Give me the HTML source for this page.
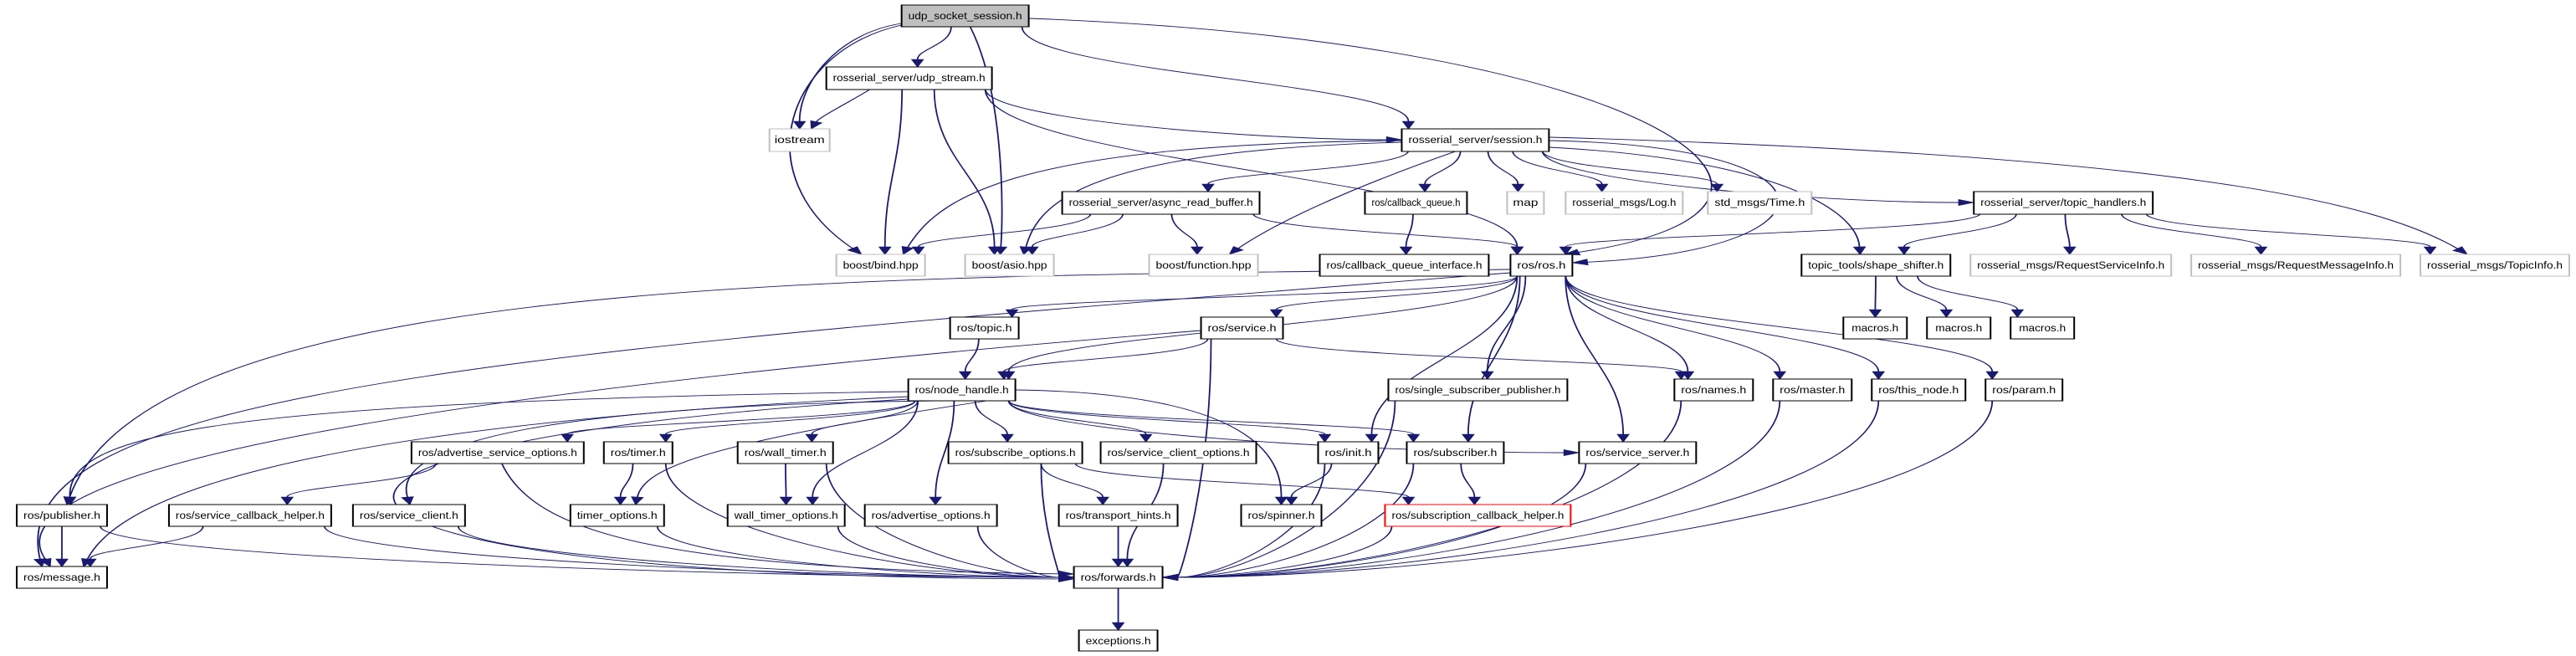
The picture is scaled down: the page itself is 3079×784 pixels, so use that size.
<!DOCTYPE html>
<html><head><meta charset="utf-8"><style>
html,body{margin:0;padding:0;background:#fff;width:3079px;height:784px;overflow:hidden}
svg{display:block}
text{font-family:"Liberation Sans",sans-serif;font-size:12px;fill:#000}
</style></head><body>
<svg id="g" width="3079" height="784" viewBox="0 0 1540 784" preserveAspectRatio="none" xmlns="http://www.w3.org/2000/svg">
<g id="edges" fill="none" stroke="#191970" stroke-width="0.9"></g>
<g id="arrows" fill="#191970" stroke="#191970" stroke-width="0.6"></g>
<g id="nodes">
<rect x="539" y="6" width="76" height="26" fill="#bfbfbf" stroke="#000"/><text x="577" y="23" text-anchor="middle" textLength="68" lengthAdjust="spacingAndGlyphs">udp_socket_session.h</text>
<rect x="494" y="80" width="99" height="27" fill="#fff" stroke="#000"/><text x="543.5" y="97" text-anchor="middle" textLength="91" lengthAdjust="spacingAndGlyphs">rosserial_server/udp_stream.h</text>
<rect x="460" y="154" width="36" height="27" fill="#fff" stroke="#bfbfbf"/><text x="478" y="171" text-anchor="middle" textLength="30" lengthAdjust="spacingAndGlyphs">iostream</text>
<rect x="838" y="154" width="88" height="27" fill="#fff" stroke="#000"/><text x="882" y="171" text-anchor="middle" textLength="80" lengthAdjust="spacingAndGlyphs">rosserial_server/session.h</text>
<rect x="635" y="229" width="118" height="27" fill="#fff" stroke="#000"/><text x="694" y="246" text-anchor="middle" textLength="110" lengthAdjust="spacingAndGlyphs">rosserial_server/async_read_buffer.h</text>
<rect x="816" y="229" width="61" height="27" fill="#fff" stroke="#000"/><text x="846.5" y="246" text-anchor="middle" textLength="53" lengthAdjust="spacingAndGlyphs">ros/callback_queue.h</text>
<rect x="901" y="229" width="22" height="27" fill="#fff" stroke="#bfbfbf"/><text x="912" y="246" text-anchor="middle" textLength="15" lengthAdjust="spacingAndGlyphs">map</text>
<rect x="936" y="229" width="70" height="27" fill="#fff" stroke="#bfbfbf"/><text x="971" y="246" text-anchor="middle" textLength="62" lengthAdjust="spacingAndGlyphs">rosserial_msgs/Log.h</text>
<rect x="1021" y="229" width="62" height="27" fill="#fff" stroke="#bfbfbf"/><text x="1052" y="246" text-anchor="middle" textLength="54" lengthAdjust="spacingAndGlyphs">std_msgs/Time.h</text>
<rect x="1180" y="229" width="107" height="27" fill="#fff" stroke="#000"/><text x="1233.5" y="246" text-anchor="middle" textLength="99" lengthAdjust="spacingAndGlyphs">rosserial_server/topic_handlers.h</text>
<rect x="500" y="304" width="53" height="26" fill="#fff" stroke="#bfbfbf"/><text x="526.5" y="321" text-anchor="middle" textLength="45" lengthAdjust="spacingAndGlyphs">boost/bind.hpp</text>
<rect x="577" y="304" width="53" height="26" fill="#fff" stroke="#bfbfbf"/><text x="603.5" y="321" text-anchor="middle" textLength="45" lengthAdjust="spacingAndGlyphs">boost/asio.hpp</text>
<rect x="687" y="304" width="65" height="26" fill="#fff" stroke="#bfbfbf"/><text x="719.5" y="321" text-anchor="middle" textLength="57" lengthAdjust="spacingAndGlyphs">boost/function.hpp</text>
<rect x="789" y="304" width="101" height="26" fill="#fff" stroke="#000"/><text x="839.5" y="321" text-anchor="middle" textLength="93" lengthAdjust="spacingAndGlyphs">ros/callback_queue_interface.h</text>
<rect x="903" y="304" width="37" height="26" fill="#fff" stroke="#000"/><text x="921.5" y="321" text-anchor="middle" textLength="29" lengthAdjust="spacingAndGlyphs">ros/ros.h</text>
<rect x="1077" y="304" width="89" height="26" fill="#fff" stroke="#000"/><text x="1121.5" y="321" text-anchor="middle" textLength="81" lengthAdjust="spacingAndGlyphs">topic_tools/shape_shifter.h</text>
<rect x="1178" y="304" width="120" height="26" fill="#fff" stroke="#bfbfbf"/><text x="1238" y="321" text-anchor="middle" textLength="112" lengthAdjust="spacingAndGlyphs">rosserial_msgs/RequestServiceInfo.h</text>
<rect x="1310" y="304" width="125" height="26" fill="#fff" stroke="#bfbfbf"/><text x="1372.5" y="321" text-anchor="middle" textLength="117" lengthAdjust="spacingAndGlyphs">rosserial_msgs/RequestMessageInfo.h</text>
<rect x="1447" y="304" width="89" height="26" fill="#fff" stroke="#bfbfbf"/><text x="1491.5" y="321" text-anchor="middle" textLength="81" lengthAdjust="spacingAndGlyphs">rosserial_msgs/TopicInfo.h</text>
<rect x="568" y="379" width="41" height="26" fill="#fff" stroke="#000"/><text x="588.5" y="396" text-anchor="middle" textLength="33" lengthAdjust="spacingAndGlyphs">ros/topic.h</text>
<rect x="718" y="379" width="49" height="26" fill="#fff" stroke="#000"/><text x="742.5" y="396" text-anchor="middle" textLength="41" lengthAdjust="spacingAndGlyphs">ros/service.h</text>
<rect x="1102" y="379" width="38" height="26" fill="#fff" stroke="#000"/><text x="1121" y="396" text-anchor="middle" textLength="28" lengthAdjust="spacingAndGlyphs">macros.h</text>
<rect x="1152" y="379" width="38" height="26" fill="#fff" stroke="#000"/><text x="1171" y="396" text-anchor="middle" textLength="28" lengthAdjust="spacingAndGlyphs">macros.h</text>
<rect x="1202" y="379" width="38" height="26" fill="#fff" stroke="#000"/><text x="1221" y="396" text-anchor="middle" textLength="28" lengthAdjust="spacingAndGlyphs">macros.h</text>
<rect x="543" y="453" width="64" height="26" fill="#fff" stroke="#000"/><text x="575" y="470" text-anchor="middle" textLength="56" lengthAdjust="spacingAndGlyphs">ros/node_handle.h</text>
<rect x="830" y="453" width="107" height="26" fill="#fff" stroke="#000"/><text x="883.5" y="470" text-anchor="middle" textLength="99" lengthAdjust="spacingAndGlyphs">ros/single_subscriber_publisher.h</text>
<rect x="1001" y="453" width="47" height="26" fill="#fff" stroke="#000"/><text x="1024.5" y="470" text-anchor="middle" textLength="39" lengthAdjust="spacingAndGlyphs">ros/names.h</text>
<rect x="1060" y="453" width="47" height="26" fill="#fff" stroke="#000"/><text x="1083.5" y="470" text-anchor="middle" textLength="39" lengthAdjust="spacingAndGlyphs">ros/master.h</text>
<rect x="1119" y="453" width="56" height="26" fill="#fff" stroke="#000"/><text x="1147" y="470" text-anchor="middle" textLength="48" lengthAdjust="spacingAndGlyphs">ros/this_node.h</text>
<rect x="1187" y="453" width="46" height="26" fill="#fff" stroke="#000"/><text x="1210" y="470" text-anchor="middle" textLength="38" lengthAdjust="spacingAndGlyphs">ros/param.h</text>
<rect x="246" y="528" width="103" height="26" fill="#fff" stroke="#000"/><text x="297.5" y="545" text-anchor="middle" textLength="95" lengthAdjust="spacingAndGlyphs">ros/advertise_service_options.h</text>
<rect x="361" y="528" width="41" height="26" fill="#fff" stroke="#000"/><text x="381.5" y="545" text-anchor="middle" textLength="33" lengthAdjust="spacingAndGlyphs">ros/timer.h</text>
<rect x="441" y="528" width="57" height="26" fill="#fff" stroke="#000"/><text x="469.5" y="545" text-anchor="middle" textLength="49" lengthAdjust="spacingAndGlyphs">ros/wall_timer.h</text>
<rect x="567" y="528" width="80" height="26" fill="#fff" stroke="#000"/><text x="607" y="545" text-anchor="middle" textLength="72" lengthAdjust="spacingAndGlyphs">ros/subscribe_options.h</text>
<rect x="658" y="528" width="93" height="26" fill="#fff" stroke="#000"/><text x="704.5" y="545" text-anchor="middle" textLength="85" lengthAdjust="spacingAndGlyphs">ros/service_client_options.h</text>
<rect x="788" y="528" width="36" height="26" fill="#fff" stroke="#000"/><text x="806" y="545" text-anchor="middle" textLength="28" lengthAdjust="spacingAndGlyphs">ros/init.h</text>
<rect x="841" y="528" width="58" height="26" fill="#fff" stroke="#000"/><text x="870" y="545" text-anchor="middle" textLength="50" lengthAdjust="spacingAndGlyphs">ros/subscriber.h</text>
<rect x="944" y="528" width="70" height="26" fill="#fff" stroke="#000"/><text x="979" y="545" text-anchor="middle" textLength="62" lengthAdjust="spacingAndGlyphs">ros/service_server.h</text>
<rect x="10" y="603" width="54" height="26" fill="#fff" stroke="#000"/><text x="37" y="620" text-anchor="middle" textLength="46" lengthAdjust="spacingAndGlyphs">ros/publisher.h</text>
<rect x="101" y="603" width="97" height="26" fill="#fff" stroke="#000"/><text x="149.5" y="620" text-anchor="middle" textLength="89" lengthAdjust="spacingAndGlyphs">ros/service_callback_helper.h</text>
<rect x="211" y="603" width="67" height="26" fill="#fff" stroke="#000"/><text x="244.5" y="620" text-anchor="middle" textLength="59" lengthAdjust="spacingAndGlyphs">ros/service_client.h</text>
<rect x="341" y="603" width="56" height="26" fill="#fff" stroke="#000"/><text x="369" y="620" text-anchor="middle" textLength="48" lengthAdjust="spacingAndGlyphs">timer_options.h</text>
<rect x="435" y="603" width="70" height="26" fill="#fff" stroke="#000"/><text x="470" y="620" text-anchor="middle" textLength="62" lengthAdjust="spacingAndGlyphs">wall_timer_options.h</text>
<rect x="517" y="603" width="79" height="26" fill="#fff" stroke="#000"/><text x="556.5" y="620" text-anchor="middle" textLength="71" lengthAdjust="spacingAndGlyphs">ros/advertise_options.h</text>
<rect x="633" y="603" width="71" height="26" fill="#fff" stroke="#000"/><text x="668.5" y="620" text-anchor="middle" textLength="63" lengthAdjust="spacingAndGlyphs">ros/transport_hints.h</text>
<rect x="742" y="603" width="48" height="26" fill="#fff" stroke="#000"/><text x="766" y="620" text-anchor="middle" textLength="40" lengthAdjust="spacingAndGlyphs">ros/spinner.h</text>
<rect x="828" y="603" width="111" height="26" fill="#fff" stroke="#ff0000"/><text x="883.5" y="620" text-anchor="middle" textLength="103" lengthAdjust="spacingAndGlyphs">ros/subscription_callback_helper.h</text>
<rect x="10" y="677" width="54" height="26" fill="#fff" stroke="#000"/><text x="37" y="694" text-anchor="middle" textLength="46" lengthAdjust="spacingAndGlyphs">ros/message.h</text>
<rect x="642" y="677" width="53" height="26" fill="#fff" stroke="#000"/><text x="668.5" y="694" text-anchor="middle" textLength="45" lengthAdjust="spacingAndGlyphs">ros/forwards.h</text>
<rect x="645" y="753" width="47" height="25" fill="#fff" stroke="#000"/><text x="668.5" y="770" text-anchor="middle" textLength="39" lengthAdjust="spacingAndGlyphs">exceptions.h</text>
</g>
</svg>
<script>
var N={usess:[539,615,6],ustream:[494,593,80],iostream:[460,496,154],session:[838,926,154],arb:[635,753,229],cbq:[816,877,229],map:[901,923,229],log:[936,1006,229],time:[1021,1083,229],th:[1180,1287,229],bind:[500,553,304],asio:[577,630,304],func:[687,752,304],cbqi:[789,890,304],ros:[903,940,304],ss:[1077,1166,304],rsi:[1178,1298,304],rmi:[1310,1435,304],ti:[1447,1536,304],topic:[568,609,379],service:[718,767,379],m1:[1102,1140,379],m2:[1152,1190,379],m3:[1202,1240,379],nh:[543,607,453],ssp:[830,937,453],names:[1001,1048,453],master:[1060,1107,453],thisnode:[1119,1175,453],param:[1187,1233,453],aso:[246,349,528],timer:[361,402,528],wtimer:[441,498,528],subo:[567,647,528],sco:[658,751,528],init:[788,824,528],sub:[841,899,528],ssrv:[944,1014,528],pub:[10,64,603],sch:[101,198,603],sc:[211,278,603],to:[341,397,603],wto:[435,505,603],ao:[517,596,603],tha:[633,704,603],spin:[742,790,603],sch2:[828,939,603],msg:[10,64,677],fwd:[642,695,677],exc:[645,692,753]};
var O={
"usess iostream":[539,28,500,40,478,100,478,154],
"usess bind":[539,30,470,60,445,210,515,304],
"usess asio":[580,32,600,110,600,250,598,304],
"usess ros":[615,22,1000,50,1120,250,935,304],
"ustream iostream":[520,107,505,125,490,140,485,154],
"session ros":[926,168,1110,175,1100,300,940,314],
"session bind":[838,168,600,172,560,240,540,304],
"session asio":[838,170,640,180,620,250,612,304],
"session func":[870,181,800,230,760,270,735,304],
"session ss":[926,176,1060,190,1110,250,1112,304],
"session ti":[926,164,1300,185,1420,240,1475,304],
"ros pub":[903,322,500,330,90,330,40,603],
"ros msg":[903,326,300,420,0,470,25,677],
"service msg":[718,395,250,470,-10,560,30,677],
"nh pub":[543,468,120,480,40,520,42,603],
"nh msg":[543,474,160,510,70,600,50,677],
"nh fwd":[543,477,100,530,140,690,642,692],
"nh sc":[560,479,300,485,235,540,245,603],
"nh to":[590,479,420,530,385,560,380,603],
"nh spin":[607,466,760,470,766,560,766,603],
"aso fwd":[300,554,320,640,400,680,642,686]
};
var E="usess ustream,usess iostream,usess bind,usess asio,usess session,usess ros,ustream iostream,ustream bind,ustream asio,ustream session,ustream ros,session arb,session cbq,session map,session log,session time,session th,session ti,session bind,session asio,session func,session ros,session ss,arb bind,arb asio,arb func,arb ros,cbq cbqi,th ros,th ss,th rsi,th rmi,th ti,ss m1,ss m2,ss m3,ros topic,ros service,ros nh,ros pub,ros msg,ros ssp,ros names,ros master,ros thisnode,ros param,ros init,ros sub,ros ssrv,topic nh,service nh,service names,service fwd,service msg,nh pub,nh msg,nh aso,nh timer,nh wtimer,nh to,nh wto,nh ao,nh subo,nh sco,nh sc,nh init,nh sub,nh ssrv,nh spin,nh fwd,aso sch,aso fwd,timer to,timer fwd,wtimer wto,wtimer fwd,pub msg,pub fwd,sch msg,sch fwd,sc fwd,to fwd,wto fwd,ao fwd,subo tha,subo fwd,subo sch2,sco fwd,init spin,init fwd,sub sch2,sub fwd,ssrv fwd,ssp fwd,names fwd,master fwd,thisnode fwd,param fwd,sch2 fwd,tha fwd,fwd exc".split(",");
var eg=document.getElementById("edges"),ag=document.getElementById("arrows"),ns="http://www.w3.org/2000/svg";
function cl(v,a,b){return Math.max(a,Math.min(b,v));}
E.forEach(function(s){var p=s.split(" "),a=N[p[0]],b=N[p[1]];
var sx,sy,ex,ey,c1x,c1y,c2x,c2y;
if(O[s]){var o=O[s];sx=o[0];sy=o[1];c1x=o[2];c1y=o[3];c2x=o[4];c2y=o[5];ex=o[6];ey=o[7];}
else{
var acx=(a[0]+a[1])/2,bcx=(b[0]+b[1])/2,aw=(a[1]-a[0])/2,bw=(b[1]-b[0])/2;
sy=a[2]+26;ey=b[2];var dx=bcx-acx,dy=ey-sy;
sx=acx+cl(dx*0.25,-aw+4,aw-4);
var side=(p[1]=="fwd"&&Math.abs(dx)>60)||Math.abs(dx)>7*dy;
if(side){ex=dx>0?b[0]:b[1];ey=b[2]+13;c1x=sx;c1y=sy+(ey-sy)*0.6;c2x=ex+(sx-ex)*0.35;c2y=ey;}
else{ex=bcx-cl(dx*0.15,-bw+4,bw-4);c1x=sx;c1y=sy+dy*0.45;c2x=ex;c2y=ey-dy*0.45;}
}
var tx=ex-c2x,ty=ey-c2y,l=Math.sqrt(tx*tx+ty*ty)||1;tx/=l;ty/=l;
var L=9,W=3.5,bx=ex-tx*L,by=ey-ty*L;
var path=document.createElementNS(ns,"path");
path.setAttribute("d","M"+sx+","+sy+" C"+c1x+","+c1y+" "+c2x+","+c2y+" "+bx+","+by);
eg.appendChild(path);
var poly=document.createElementNS(ns,"polygon");
poly.setAttribute("points",ex+","+ey+" "+(bx-ty*W)+","+(by+tx*W)+" "+(bx+ty*W)+","+(by-tx*W));
ag.appendChild(poly);});
</script>
</body></html>
